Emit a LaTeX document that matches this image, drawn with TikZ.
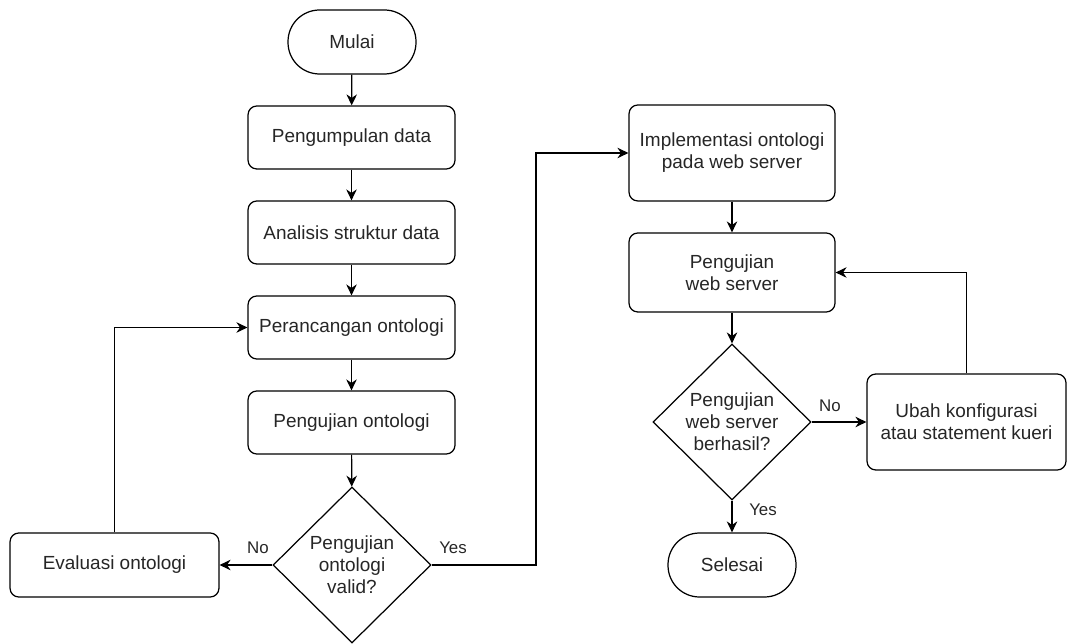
\documentclass[tikz,border=0pt]{standalone}
\usepackage{fontspec}
\setmainfont{Liberation Sans}
\usetikzlibrary{shapes.geometric,arrows.meta}

\begin{document}
\begin{tikzpicture}[x=0.02cm,y=-0.02cm,
			every node/.style={font=\fontsize{10.8pt}{12.5pt}\selectfont,text=black!85,align=center},
			proses/.style={draw,line width=0.7pt,rounded corners=5pt,minimum width=4.14cm,minimum height=1.26cm,inner sep=2pt},
			terminal/.style={draw,line width=0.7pt,rounded corners=0.63cm,minimum width=2.56cm,minimum height=1.28cm},
			keputusan/.style={draw,line width=0.7pt,diamond,aspect=1,inner sep=0pt,minimum width=3.16cm,minimum height=3.12cm},
			panah/.style={line width=0.7pt,-{Stealth[length=2.2mm,width=2.1mm]}},
			ket/.style={font=\fontsize{9.6pt}{11pt}\selectfont}]
			\useasboundingbox (0,0) rectangle (1067,644);
			\node[terminal] (mulai) at (352,42) {Mulai};
			\node[proses] (kumpul) at (351.5,137.5) {Pengumpulan data};
			\node[proses] (analisis) at (351.5,232.5) {Analisis struktur data};
			\node[proses] (rancang) at (351.5,327.5) {Perancangan ontologi};
			\node[proses] (ujiOnto) at (351.5,422.5) {Pengujian ontologi};
			\node[keputusan] (validOnto) at (352,565) {Pengujian\\ontologi\\valid?};
			\node[proses,minimum width=4.18cm,minimum height=1.28cm] (evaluasi) at (114.5,565) {Evaluasi ontologi};
			\node[proses,minimum width=4.12cm,minimum height=1.92cm] (implementasi) at (732,153) {Implementasi ontologi\\pada web server};
			\node[proses,minimum width=4.12cm,minimum height=1.58cm] (ujiWeb) at (732,272.5) {Pengujian\\web server};
			\node[keputusan] (berhasil) at (732,422) {Pengujian\\web server\\berhasil?};
			\node[proses,minimum width=3.98cm,minimum height=1.92cm] (ubah) at (966.5,422) {Ubah konfigurasi\\atau statement kueri};
			\node[terminal] (selesai) at (732,565) {Selesai};
			\coordinate (belok) at (536,565);

			\draw[panah] (mulai) -- (kumpul);
			\draw[panah] (kumpul) -- (analisis);
			\draw[panah] (analisis) -- (rancang);
			\draw[panah] (rancang) -- (ujiOnto);
			\draw[panah] (ujiOnto) -- (validOnto);
			\draw[panah] (validOnto.west) -- (evaluasi.east);
			\draw[panah] (evaluasi.north) |- (rancang.west);
			\draw[panah] (validOnto.east) -- (belok) |- (implementasi.west);
			\draw[panah] (implementasi) -- (ujiWeb);
			\draw[panah] (ujiWeb) -- (berhasil);
			\draw[panah] (berhasil.east) -- (ubah.west);
			\draw[panah] (ubah.north) |- (ujiWeb.east);
			\draw[panah] (berhasil.south) -- (selesai);

			\node[ket] (noOnto) at (258,548) {No};
			\node[ket] (yesOnto) at (453,548) {Yes};
			\node[ket] (noWeb) at (830,406) {No};
			\node[ket] (yesWeb) at (763,510) {Yes};
\end{tikzpicture}
\end{document}
